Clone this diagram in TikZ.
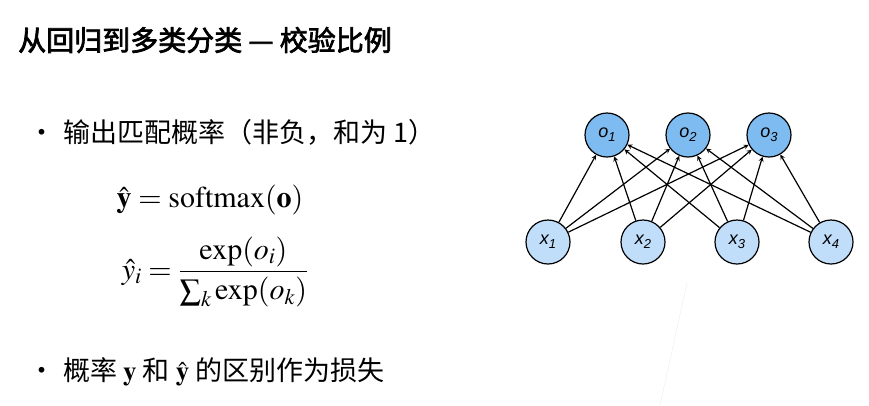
\documentclass[tikz,border=0pt]{standalone}
\usepackage{amsmath}
\usepackage{mathptmx}
\usepackage{fontspec}
\setsansfont{Liberation Sans}
\newfontfamily\cjk{Noto Sans CJK SC}
\newfontfamily\cjkb[FakeBold=2.5]{Noto Sans CJK SC}
\usetikzlibrary{arrows}
\tikzset{
  unit/.style={circle, draw, line width=1.2pt, minimum size=44pt, inner sep=0pt, font=\sffamily\itshape\fontsize{18}{20}\selectfont},
  outunit/.style={unit, fill=outblue},
  inunit/.style={unit, fill=inblue},
  txt/.style={anchor=west, inner sep=0pt, font=\cjk\fontsize{27}{32}\selectfont}
}
\newcommand{\lab}[2]{#1\raisebox{-4pt}{\fontsize{13}{14}\selectfont #2}}
\definecolor{outblue}{HTML}{7DBBF0}
\definecolor{inblue}{HTML}{C0DDFA}
\begin{document}
\begin{tikzpicture}[x=1pt, y=-1pt, >=stealth]
    \useasboundingbox (0,0) rectangle (869,405);
    \node[txt, font=\cjkb\fontsize{28}{32}\selectfont] (title) at (18,40) {从回归到多类分类 — 校验比例};
    \node[txt] (b1) at (28,132) {·\hspace{8pt}输出匹配概率（非负，和为 1）};
    \node[inner sep=0pt, font=\fontsize{30}{34}\selectfont] (f1) at (210,200) {$\hat{\mathbf{y}} = \mathrm{softmax}(\mathbf{o})$};
    \node[inner sep=0pt, font=\fontsize{30}{34}\selectfont] (f2) at (215,272) {$\hat{y}_i = \dfrac{\exp(o_i)}{\sum_k \exp(o_k)}$};
    \node[txt] (b2) at (28,372) {·\hspace{8pt}概率 $\mathbf{y}$ 和 $\hat{\mathbf{y}}$ 的区别作为损失};
    \draw[black!8] (687,283) -- (660,405);
    % output layer
    \node[outunit] (o1) at (607,135) {\lab{o}{1}};
    \node[outunit] (o2) at (688,135) {\lab{o}{2}};
    \node[outunit] (o3) at (769,135) {\lab{o}{3}};
    % input layer
    \node[inunit] (x1) at (548,242) {\lab{x}{1}};
    \node[inunit] (x2) at (643,242) {\lab{x}{2}};
    \node[inunit] (x3) at (737,242) {\lab{x}{3}};
    \node[inunit] (x4) at (831,242) {\lab{x}{4}};
    \foreach \i in {1,...,4}
      \foreach \j in {1,2,3}
        \draw[->, line width=1.2pt] (x\i) -- (o\j);
\end{tikzpicture}
\end{document}
